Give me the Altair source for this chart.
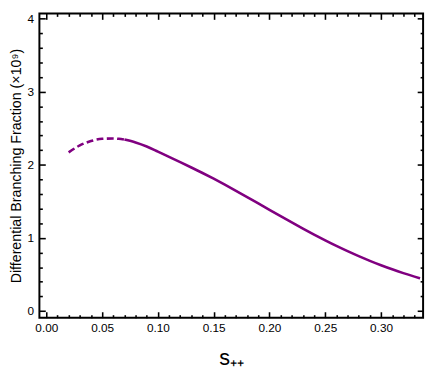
import altair as alt
import pandas as pd

# data
s_vals = [0.020, 0.030, 0.040, 0.050, 0.060, 0.065, 0.070, 0.080, 0.090, 0.100,
          0.110, 0.120, 0.130, 0.140, 0.150, 0.160, 0.170, 0.180, 0.190, 0.200,
          0.210, 0.220, 0.230, 0.240, 0.250, 0.260, 0.270, 0.280, 0.290, 0.300,
          0.310, 0.320, 0.330, 0.335]
bf_vals = [2.170, 2.265, 2.325, 2.355, 2.360, 2.355, 2.345, 2.305, 2.250, 2.180,
           2.108, 2.036, 1.963, 1.888, 1.810, 1.729, 1.645, 1.559, 1.472, 1.385,
           1.298, 1.212, 1.128, 1.046, 0.967, 0.891, 0.819, 0.751, 0.687, 0.627,
           0.571, 0.519, 0.471, 0.448]
dash_end = 0.07

x_major = [0.00, 0.05, 0.10, 0.15, 0.20, 0.25, 0.30]
x_minor = [0.01, 0.02, 0.03, 0.04, 0.06, 0.07, 0.08, 0.09, 0.11, 0.12, 0.13, 0.14,
           0.16, 0.17, 0.18, 0.19, 0.21, 0.22, 0.23, 0.24, 0.26, 0.27, 0.28, 0.29,
           0.31, 0.32, 0.33]
y_major = [0, 1, 2, 3, 4]
y_minor = [0.2, 0.4, 0.6, 0.8, 1.2, 1.4, 1.6, 1.8, 2.2, 2.4, 2.6, 2.8,
           3.2, 3.4, 3.6, 3.8]

x_domain = [-0.0062, 0.3377]
y_domain = [-0.09, 4.07]

W, H = 391, 310
PURPLE = "#800080"
FONT = "Liberation Sans"

df = pd.DataFrame({"s": s_vals, "bf": bf_vals})
df_dash = df[df["s"] <= dash_end]
df_solid = df[df["s"] >= dash_end]

xs = alt.Scale(domain=x_domain, nice=False, zero=False)
ys = alt.Scale(domain=y_domain, nice=False, zero=False)


def tick_axis(orient, values, size, offset):
    return alt.Axis(orient=orient, values=values, tickSize=size, tickWidth=1.6,
                    tickColor="black", labels=False, domain=False, grid=False,
                    title=None, offset=offset)


x_label_axis = alt.Axis(orient="bottom", values=x_major, format=".2f", tickSize=0,
                        labelPadding=5, domain=False, grid=False, labelFontSize=12,
                        labelFont=FONT, labelColor="black", title="s₊₊",
                        titleFont=FONT, titleFontSize=22, titleFontWeight="normal",
                        titlePadding=15, titleColor="black")
y_label_axis = alt.Axis(orient="left", values=y_major, format="d", tickSize=0,
                        labelPadding=6, domain=False, grid=False, labelFontSize=12,
                        labelFont=FONT, labelColor="black",
                        title="Differential Branching Fraction (×10⁹)",
                        titleFont=FONT, titleFontSize=14.5, titleFontWeight="normal",
                        titlePadding=4, titleColor="black")

solid = alt.Chart(df_solid).mark_line(color=PURPLE, strokeWidth=2.6,
                                      interpolate="monotone").encode(
    x=alt.X("s:Q", scale=xs, axis=x_label_axis),
    y=alt.Y("bf:Q", scale=ys, axis=y_label_axis),
)

dashed = alt.Chart(df_dash).mark_line(color=PURPLE, strokeWidth=2.6,
                                      strokeDash=[7, 3.5],
                                      interpolate="monotone").encode(
    x=alt.X("s:Q", scale=xs, axis=tick_axis("top", x_major, 6, -H)),
    y=alt.Y("bf:Q", scale=ys, axis=tick_axis("right", y_major, 6, -W)),
)


def ghost(xaxis, yaxis):
    return alt.Chart(df).mark_line(strokeOpacity=0).encode(
        x=alt.X("s:Q", scale=xs, axis=xaxis),
        y=alt.Y("bf:Q", scale=ys, axis=yaxis),
    )


g1 = ghost(tick_axis("top", x_minor, 3, -H), tick_axis("right", y_minor, 3, -W))
g2 = ghost(tick_axis("bottom", x_major, 6, -H), tick_axis("left", y_major, 6, -W))
g3 = ghost(tick_axis("bottom", x_minor, 3, -H), tick_axis("left", y_minor, 3, -W))

chart = alt.layer(solid, dashed, g1, g2, g3).resolve_axis(
    x="independent", y="independent"
).properties(
    width=W, height=H,
    autosize=alt.AutoSizeParams(type="none"),
    padding={"left": 32, "top": 2, "right": 5, "bottom": 60},
    background="white",
).configure_view(
    stroke="black", strokeWidth=2
)

chart.save("out.html", embed_options={"renderer": "svg", "actions": False})
